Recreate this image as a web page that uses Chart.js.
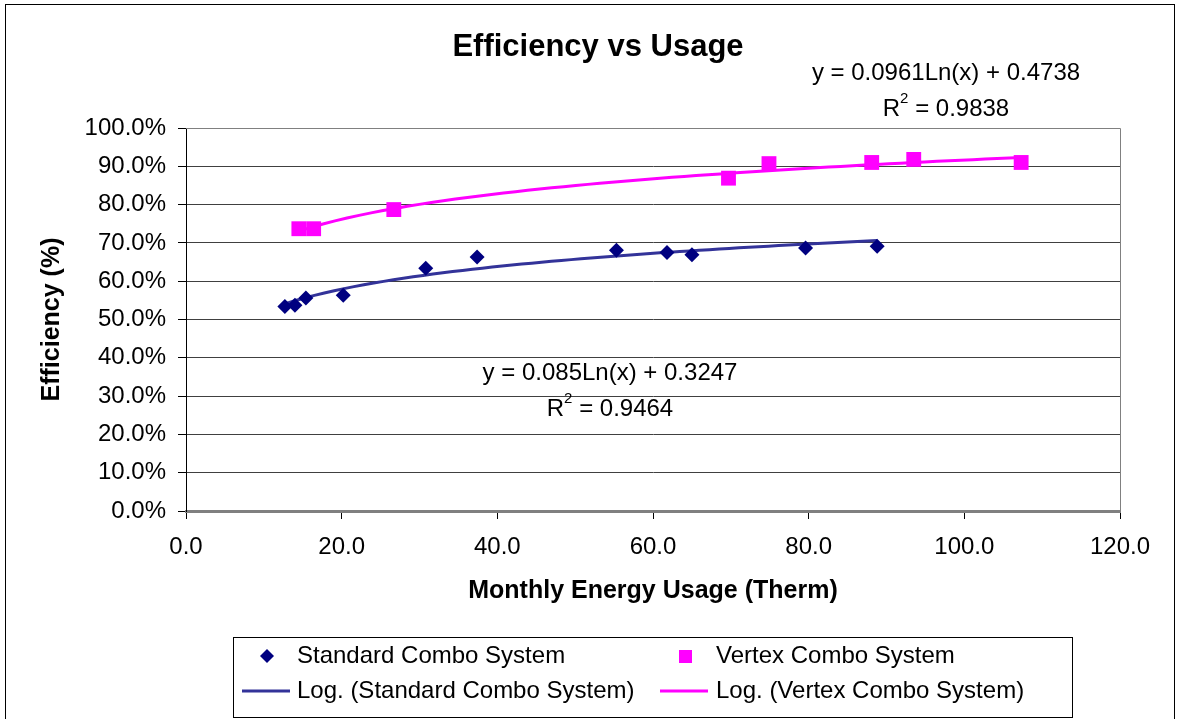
<!DOCTYPE html>
<html>
<head>
<meta charset="utf-8">
<script src="https://cdn.jsdelivr.net/npm/chart.js@4.4.1/dist/chart.umd.min.js"></script>
<style>
  html, body { margin: 0; padding: 0; background: #fff; }
  #wrap { width: 1177px; height: 719px; }
</style>
</head>
<body>
<div id="wrap"><canvas id="effChart" width="1177" height="719"></canvas></div>
<script>
// values
const stdUsage = [12.7, 14.0, 15.4, 20.2, 30.8, 37.4, 55.3, 61.8, 65.0, 79.6, 88.8];
const stdEff = [0.534, 0.537, 0.556, 0.563, 0.634, 0.663, 0.681, 0.675, 0.669, 0.687, 0.691];
const vtxUsage = [14.5, 16.4, 26.7, 69.7, 74.9, 88.1, 93.5, 107.3];
const vtxEff = [0.737, 0.737, 0.787, 0.869, 0.907, 0.910, 0.918, 0.910];

// Excel log trendlines, coefficients as printed on the chart
const stdFit = { a: 0.085, b: 0.3247, eq: 'y = 0.085Ln(x) + 0.3247', r2: '0.9464' };
const vtxFit = { a: 0.0961, b: 0.4738, eq: 'y = 0.0961Ln(x) + 0.4738', r2: '0.9838' };

const xMin = 0, xMax = 120, xStep = 20;
const yMin = 0, yMax = 1, yStep = 0.1;

const FONT = '"Liberation Sans", Arial, sans-serif';
const STD_COLOR = '#000080';
const STD_LINE = '#333399';
const VTX_COLOR = '#FF00FF';

function toPoints(xs, ys) {
  return xs.map((x, i) => ({ x: x, y: ys[i] }));
}

function trend(fit, xs) {
  const lo = Math.min(...xs), hi = Math.max(...xs);
  const pts = [];
  const n = 60;
  for (let i = 0; i <= n; i++) {
    const x = lo + (hi - lo) * i / n;
    pts.push({ x: x, y: fit.a * Math.log(x) + fit.b });
  }
  return pts;
}

function drawR2(ctx, cx, cy, val) {
  ctx.font = '24px ' + FONT;
  const wR = ctx.measureText('R').width;
  const rest = ' = ' + val;
  const wRest = ctx.measureText(rest).width;
  ctx.font = '15px ' + FONT;
  const w2 = ctx.measureText('2').width;
  const start = cx - (wR + w2 + wRest) / 2;
  ctx.textAlign = 'left';
  ctx.textBaseline = 'middle';
  ctx.font = '24px ' + FONT;
  ctx.fillText('R', start, cy);
  ctx.font = '15px ' + FONT;
  ctx.fillText('2', start + wR, cy - 10);
  ctx.font = '24px ' + FONT;
  ctx.fillText(rest, start + wR + w2, cy);
}

const decorations = {
  id: 'decorations',
  beforeDraw(chart) {
    const ctx = chart.ctx;
    ctx.save();
    ctx.fillStyle = '#fff';
    ctx.fillRect(0, 0, chart.width, chart.height);
    ctx.strokeStyle = '#000';
    ctx.lineWidth = 1;
    ctx.strokeRect(5.5, 4.5, 1169, 800);
    ctx.restore();
  },
  afterDatasetsDraw(chart) {
    const ctx = chart.ctx;
    const a = chart.chartArea;
    ctx.save();
    // plot area frame
    ctx.strokeStyle = '#808080';
    ctx.lineWidth = 1;
    ctx.beginPath();
    ctx.moveTo(a.left, a.top + 0.5);
    ctx.lineTo(a.right + 0.5, a.top + 0.5);
    ctx.lineTo(a.right + 0.5, a.bottom);
    ctx.stroke();

    ctx.fillStyle = '#000';
    ctx.textAlign = 'center';
    ctx.textBaseline = 'middle';

    ctx.font = 'bold 31px ' + FONT;
    ctx.fillText('Efficiency vs Usage', 598, 47);

    ctx.font = 'bold 25px ' + FONT;
    ctx.fillText('Monthly Energy Usage (Therm)', (a.left + a.right) / 2, 591);

    ctx.save();
    ctx.translate(52, (a.top + a.bottom) / 2);
    ctx.rotate(-Math.PI / 2);
    ctx.fillText('Efficiency (%)', 0, 0);
    ctx.restore();

    // trendline labels
    ctx.font = '24px ' + FONT;
    ctx.fillText(vtxFit.eq, 946, 73);
    drawR2(ctx, 946, 109, vtxFit.r2);
    ctx.textAlign = 'center';
    ctx.font = '24px ' + FONT;
    ctx.fillText(stdFit.eq, 610, 373);
    drawR2(ctx, 610, 409, stdFit.r2);

    // legend
    ctx.strokeStyle = '#000';
    ctx.lineWidth = 1;
    ctx.strokeRect(233.5, 637.5, 839, 80);

    const row1 = 656, row2 = 691;
    ctx.fillStyle = STD_COLOR;
    ctx.beginPath();
    ctx.moveTo(267, row1 - 7);
    ctx.lineTo(274, row1);
    ctx.lineTo(267, row1 + 7);
    ctx.lineTo(260, row1);
    ctx.closePath();
    ctx.fill();

    ctx.fillStyle = VTX_COLOR;
    ctx.fillRect(679, row1 - 6, 13, 13);

    ctx.lineWidth = 3;
    ctx.strokeStyle = STD_LINE;
    ctx.beginPath();
    ctx.moveTo(242, row2);
    ctx.lineTo(290, row2);
    ctx.stroke();
    ctx.strokeStyle = VTX_COLOR;
    ctx.beginPath();
    ctx.moveTo(660, row2);
    ctx.lineTo(708, row2);
    ctx.stroke();

    ctx.fillStyle = '#000';
    ctx.textAlign = 'left';
    ctx.font = '24px ' + FONT;
    ctx.fillText('Standard Combo System', 297, row1);
    ctx.fillText('Vertex Combo System', 716, row1);
    ctx.fillText('Log. (Standard Combo System)', 297, row2);
    ctx.fillText('Log. (Vertex Combo System)', 716, row2);
    ctx.restore();
  }
};

new Chart(document.getElementById('effChart'), {
  type: 'scatter',
  data: {
    datasets: [
      {
        label: 'Standard Combo System',
        data: toPoints(stdUsage, stdEff),
        pointStyle: 'rectRot',
        pointRadius: 7.5,
        backgroundColor: STD_COLOR,
        borderColor: STD_COLOR,
        borderWidth: 0,
        order: 0
      },
      {
        label: 'Vertex Combo System',
        data: toPoints(vtxUsage, vtxEff),
        pointStyle: 'rect',
        pointRadius: 10.5,
        backgroundColor: VTX_COLOR,
        borderColor: VTX_COLOR,
        borderWidth: 0,
        order: 0
      },
      {
        label: 'Log. (Standard Combo System)',
        data: trend(stdFit, stdUsage),
        showLine: true,
        pointRadius: 0,
        borderColor: STD_LINE,
        borderWidth: 3,
        order: 1
      },
      {
        label: 'Log. (Vertex Combo System)',
        data: trend(vtxFit, vtxUsage),
        showLine: true,
        pointRadius: 0,
        borderColor: VTX_COLOR,
        borderWidth: 3,
        order: 1
      }
    ]
  },
  options: {
    responsive: false,
    animation: false,
    layout: { padding: { top: 128, right: 57, left: 0, bottom: 0 } },
    plugins: {
      legend: { display: false },
      title: { display: false },
      tooltip: { enabled: false }
    },
    scales: {
      x: {
        type: 'linear',
        min: xMin,
        max: xMax,
        ticks: {
          stepSize: xStep,
          color: '#000',
          font: { family: FONT, size: 24 },
          padding: 14,
          maxRotation: 0,
          callback: v => v.toFixed(1)
        },
        grid: { drawOnChartArea: false, drawTicks: true, tickLength: 8, color: '#000' },
        border: { display: true, color: '#808080', width: 3 },
        afterFit: s => { s.height = 208; }
      },
      y: {
        min: yMin,
        max: yMax,
        ticks: {
          stepSize: yStep,
          color: '#000',
          font: { family: FONT, size: 24 },
          padding: 12,
          callback: v => (v * 100).toFixed(1) + '%'
        },
        grid: { color: '#404040', lineWidth: 1, tickLength: 8, tickColor: '#000' },
        border: { display: true, color: '#000', width: 1 },
        afterFit: s => { s.width = 186; }
      }
    }
  },
  plugins: [decorations]
});
</script>
</body>
</html>
